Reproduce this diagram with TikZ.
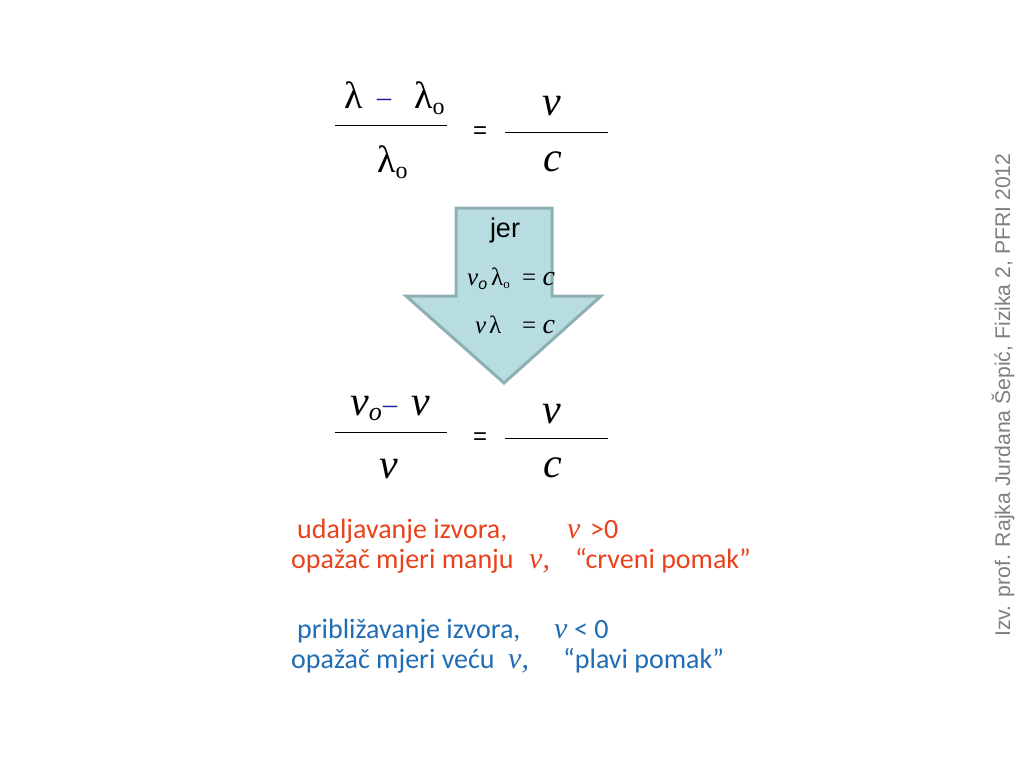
\documentclass[tikz,border=0pt]{standalone}
\usepackage{fontspec}
\setmainfont{Carlito}
\newfontfamily\tnr{Liberation Serif}
\newfontfamily\arl{Liberation Sans}
\definecolor{arrfill}{HTML}{B7DDE1}
\definecolor{arrdraw}{HTML}{8EB0B4}
\definecolor{redt}{HTML}{E8431C}
\definecolor{bluet}{HTML}{1F6DB4}
\definecolor{minusc}{HTML}{1A1AA0}
\definecolor{grayt}{HTML}{7F7F7F}
\newcommand{\sbo}{\raisebox{-0.35ex}{\fontsize{24}{24}\selectfont o}}
\newcommand{\sbs}{\raisebox{-0.35ex}{\arl\fontsize{16}{16}\selectfont o}}
\newcommand{\sbt}{\raisebox{-0.3ex}{\fontsize{13}{13}\selectfont o}}
\begin{document}
\begin{tikzpicture}[x=1pt,y=-1pt,
  mth/.style={inner sep=0pt,font=\tnr\fontsize{38}{38}\selectfont},
  mvar/.style={inner sep=0pt,font=\tnr\itshape\fontsize{42}{42}\selectfont},
  mths/.style={inner sep=0pt,font=\tnr\fontsize{25}{25}\selectfont},
  mnus/.style={inner sep=0pt,anchor=base west,text=minusc,font=\tnr\fontsize{28}{28}\selectfont},
  eq/.style={inner sep=0pt,font=\arl\fontsize{24}{24}\selectfont},
  bar/.style={line width=0.8pt},
  body/.style={inner sep=0pt,anchor=base west,font=\fontsize{28}{28}\selectfont},
  bvar/.style={inner sep=0pt,anchor=base west,font=\tnr\itshape\fontsize{30}{30}\selectfont}]
\useasboundingbox (0,0) rectangle (1024,768);
\fill[white] (0,0) rectangle (1024,768);
% first equation
\node[mth,anchor=base west] (n1) at (344,108) {λ};
\node[mnus] (n1m) at (377,106) {–};
\node[mth,anchor=base west] (n1b) at (414,108) {λ\sbo};
\draw[bar] (335,125) -- (447,125);
\node[mth,anchor=base west] (d1) at (377,172) {λ\sbo};
\node[eq] (e1) at (480,133) {=};
\node[mvar] (v1) at (552,106) {v};
\draw[bar] (505,132) -- (608,132);
\node[mvar] (c1) at (553,162) {c};
% arrow
\draw[arrdraw,fill=arrfill,line width=3pt,line join=miter]
  (456,208) -- (552,208) -- (552,296) -- (601,296) -- (504,383) -- (406,296) -- (456,296) -- cycle;
\node[inner sep=0pt,font=\arl\fontsize{27}{27}\selectfont] (jer) at (505,231) {jer};
\node[mths,anchor=base west] (r1a) at (467,285) {\itshape ν\sbs};
\node[mths,anchor=base west] (r1l) at (491,285) {λ\sbt};
\node[mths,anchor=base west] (r1b) at (522,285) {= {\itshape\fontsize{28}{28}\selectfont c}};
\node[mths,anchor=base west] (r2a) at (475,333) {\itshape ν};
\node[mths,anchor=base west] (r2l) at (489,333) {λ};
\node[mths,anchor=base west] (r2b) at (522,333) {= {\itshape\fontsize{28}{28}\selectfont c}};
% second equation
\node[mvar,anchor=base west] (n2) at (350,415) {ν\raisebox{-0.3ex}{\fontsize{26}{26}\selectfont o}};
\node[mnus] (n2m) at (383,413) {–};
\node[mvar,anchor=base west] (n2b) at (411,415) {ν};
\draw[bar] (335,432) -- (447,432);
\node[mvar,anchor=base west] (d2) at (379,478) {ν};
\node[eq] (e2) at (480,439) {=};
\node[mvar] (v2) at (552,414) {v};
\draw[bar] (505,438) -- (608,438);
\node[mvar] (c2) at (553,468) {c};
% red text
\node[body,text=redt] (t1) at (297,538) {udaljavanje izvora,};
\node[bvar,text=redt] (t1v) at (567,538) {v};
\node[body,text=redt] (t1g) at (590,538) {>0};
\node[body,text=redt] (t2) at (291,568) {opažač mjeri manju};
\node[bvar,text=redt] (t2v) at (529,568) {ν,};
\node[body,text=redt] (t2q) at (575,568) {“crveni pomak”};
% blue text
\node[body,text=bluet] (t3) at (297,638) {približavanje izvora,};
\node[bvar,text=bluet] (t3v) at (554,638) {v};
\node[body,text=bluet] (t3g) at (574,638) {< 0};
\node[body,text=bluet] (t4) at (291,668) {opažač mjeri veću};
\node[bvar,text=bluet] (t4v) at (508,668) {ν,};
\node[body,text=bluet] (t4q) at (563,668) {“plavi pomak”};
% vertical credit
\node[inner sep=0pt,rotate=90,text=grayt,font=\arl\fontsize{21.2}{21.2}\selectfont] (cred) at (1003,395) {Izv. prof. Rajka Jurdana Šepić, Fizika 2, PFRI 2012};
\end{tikzpicture}
\end{document}
